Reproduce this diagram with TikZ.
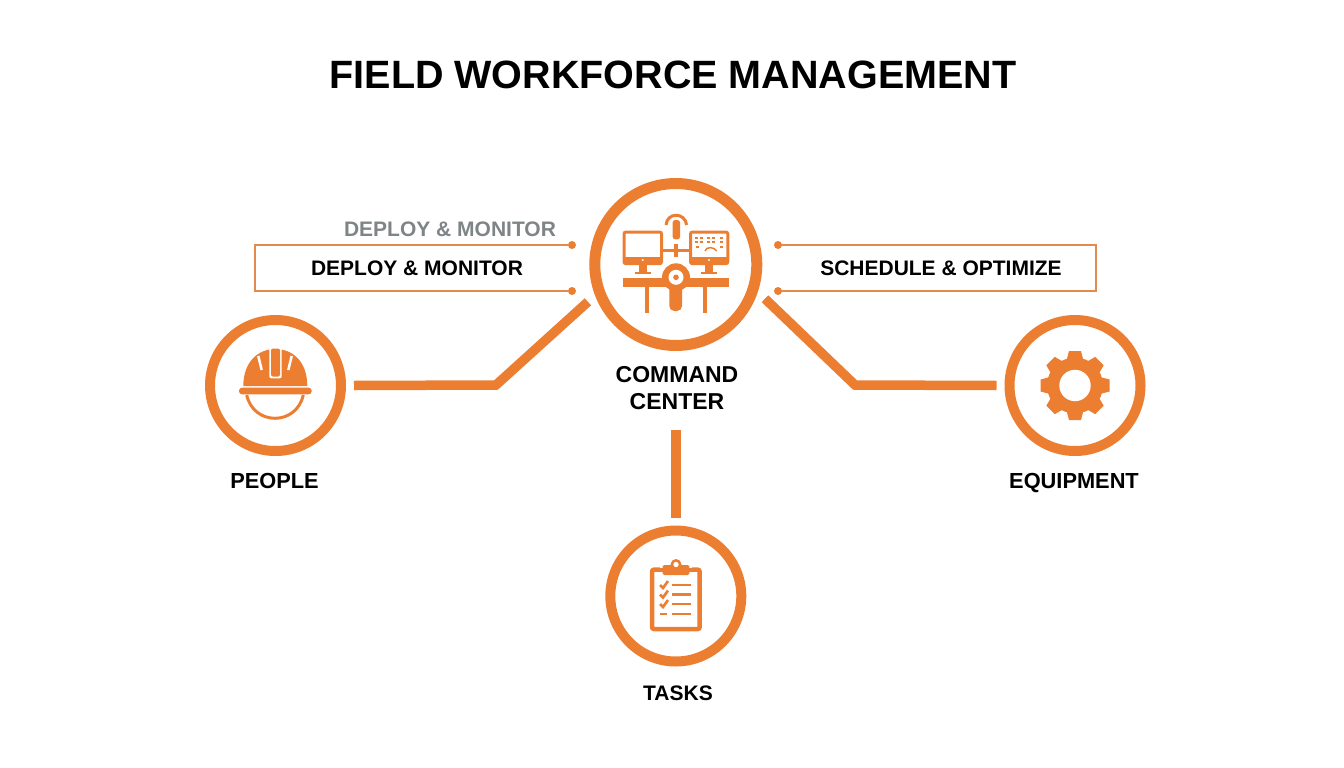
\documentclass[tikz,border=0pt]{standalone}
\usepackage{fontspec}
\setmainfont{Liberation Sans}
\definecolor{fworange}{HTML}{EC7E32}
\definecolor{fwline}{HTML}{E48A4E}
\definecolor{fwgrey}{HTML}{7F8487}
\tikzset{
  ring/.style={circle, draw=fworange, line width=10pt, minimum size=131pt, inner sep=0pt, outer sep=13pt},
  hubring/.style={circle, draw=fworange, line width=11pt, minimum size=162pt, inner sep=0pt, outer sep=14.5pt},
  link/.style={draw=fworange, line width=9.5pt},
  boxline/.style={draw=fwline, line width=1.5pt},
  pin/.style={circle, fill=fworange, minimum size=8pt, inner sep=0pt, outer sep=0pt},
  caption/.style={font=\fontsize{21}{27}\selectfont\bfseries, align=center, inner sep=0pt},
  bigcaption/.style={font=\fontsize{21.8}{27}\selectfont\bfseries, align=center, inner sep=0pt},
  iconline/.style={draw=fworange, line width=3pt},
}
\begin{document}
\begin{tikzpicture}[x=1pt,y=-1pt]
\useasboundingbox (0,0) rectangle (1344,768);
\node[font=\fontsize{39.5}{48}\selectfont\bfseries, inner sep=0pt] (title) at (673,75) {FIELD WORKFORCE MANAGEMENT};
% rings
\node[hubring] (hub) at (675.8,264.5) {};
\node[ring] (people) at (275.5,385.5) {};
\node[ring] (equipment) at (1075,385.5) {};
\node[ring] (tasks) at (675.8,596) {};
% captions
\node[caption, font=\fontsize{23}{27}\selectfont\bfseries] (hublabel) at (677,388) {COMMAND\\CENTER};
\node[bigcaption] (peoplelabel) at (274.5,481) {PEOPLE};
\node[bigcaption] (equiplabel) at (1074,483) {EQUIPMENT};
\node[caption] (taskslabel) at (678,693) {TASKS};
% connectors
\coordinate (bendL) at (496,385);
\coordinate (bendR) at (855,385);
\draw[link] (people.east) -- (bendL) -- (hub.203);
\draw[link] (equipment.west) -- (bendR) -- (hub.-21);
\draw[link] (hub.center |- 0,430) -- (tasks.north);
% label boxes
\node[pin] (dotA) at (572,245) {};
\node[pin] (dotB) at (572,291) {};
\node[pin] (dotC) at (778,245) {};
\node[pin] (dotD) at (778,291) {};
\coordinate (boxL) at (255,268);
\coordinate (boxR) at (1096,268);
\draw[boxline] (dotA) -- (dotA -| boxL) -- (dotB -| boxL) -- (dotB);
\draw[boxline] (dotC) -- (dotC -| boxR) -- (dotD -| boxR) -- (dotD);
\node[caption, text=fwgrey] (deploygrey) at (450,229) {DEPLOY \& MONITOR};
\node[caption] (deploy) at (417,268) {DEPLOY \& MONITOR};
\node[caption] (schedule) at (941,268) {SCHEDULE \& OPTIMIZE};
% helmet
\draw[fworange, line width=3pt] (246.7,395) .. controls (250,410) and (262,418.3) .. (275,418.3) .. controls (288,418.3) and (300,410) .. (303.3,395);
\fill[fworange] (243.3,386) .. controls (243.3,362) and (258,349) .. (275.3,349) .. controls (293,349) and (307.3,362) .. (307.3,386) -- cycle;
\fill[white, rounded corners=2pt] (269.3,347.5) rectangle (281.7,378.3);
\fill[fworange, rounded corners=2pt] (271,348.5) rectangle (280,376.5);
\draw[white, line width=2.5pt] (258.3,356) -- (261.7,370);
\draw[white, line width=2.5pt] (291.7,356) -- (288.3,370);
\fill[fworange, rounded corners=3pt] (239,387.7) rectangle (311.7,394.3);
% gear
\begin{scope}[shift={(1075,385.5)}]
\fill[fworange] (0,0) circle (28);
\foreach \a in {0,45,...,315}
  \fill[fworange, rotate=\a] (-8.5,-25) -- (-6,-34.5) -- (6,-34.5) -- (8.5,-25) -- cycle;
\fill[white] (0,0) circle (15.7);
\end{scope}
% clipboard
\draw[fworange, line width=4.5pt, rounded corners=2pt] (652,569.7) rectangle (699.7,629);
\fill[white] (660,564) rectangle (692,568);
\fill[fworange] (676,564.5) circle (5.5);
\fill[fworange, rounded corners=1.5pt] (662.7,565) rectangle (689.3,575);
\fill[white] (676,564.5) circle (2.7);
\foreach \y in {585,594.5,604} {
  \draw[fworange, line width=2.4pt] (671.7,\y) -- (690.7,\y);
  \draw[fworange, line width=2.6pt] (660,\y) -- (663,\y+3) -- (668,\y-4);
}
\draw[fworange, line width=2.4pt] (671.7,613.7) -- (690.7,613.7);
\draw[fworange, line width=2.4pt] (660,613.7) -- (666.7,613.7);
% command centre icon
\draw[iconline, rounded corners=2pt] (624,232) rectangle (661.5,263.7);
\fill[fworange] (624,257.3) rectangle (661.5,264);
\fill[white] (642.7,260) circle (1.2);
\fill[fworange] (639.3,265) rectangle (646.7,271.7);
\fill[fworange] (635,271.7) rectangle (650.7,274.3);
\draw[iconline, rounded corners=2pt] (690.5,232) rectangle (727.8,263.7);
\fill[fworange] (690.5,257.3) rectangle (727.8,264);
\fill[white] (709,260) circle (1.2);
\fill[fworange] (705.3,265) rectangle (712.7,271.7);
\fill[fworange] (701,271.7) rectangle (717,274.3);
\foreach \x in {696,701.7,708.3,713.3,721}
  \foreach \y in {237.7,241.7}
    \fill[fworange] (\x-1.5,\y-1.1) rectangle (\x+1.5,\y+1.1);
\fill[fworange] (696,246) rectangle (699,248);
\fill[fworange] (720,246) rectangle (723,248);
\draw[fworange, line width=1.5pt] (705,251) .. controls (706,246.5) and (714,246.5) .. (716.7,251);
\draw[iconline] (662,250) -- (690,250);
\draw[fworange, line width=3.5pt] (676,244) -- (676,257.3);
\draw[iconline] (666,225) .. controls (667,212) and (685,212) .. (686.7,225);
\fill[fworange, rounded corners=2.5pt] (672.7,220) rectangle (680,239.3);
\fill[white] (676,277.3) circle (16);
\fill[fworange] (623.3,278.3) rectangle (729,286.7);
\draw[fworange, line width=4pt] (647.3,286.7) -- (647.3,312.7);
\draw[fworange, line width=4pt] (705,286.7) -- (705,312.7);
\fill[fworange] (676,277.3) circle (14);
\fill[fworange, rounded corners=5pt] (669.3,280) rectangle (682,311);
\fill[white] (676,277.3) circle (7.5);
\fill[fworange] (676,277.3) circle (2.8);
\end{tikzpicture}
\end{document}
